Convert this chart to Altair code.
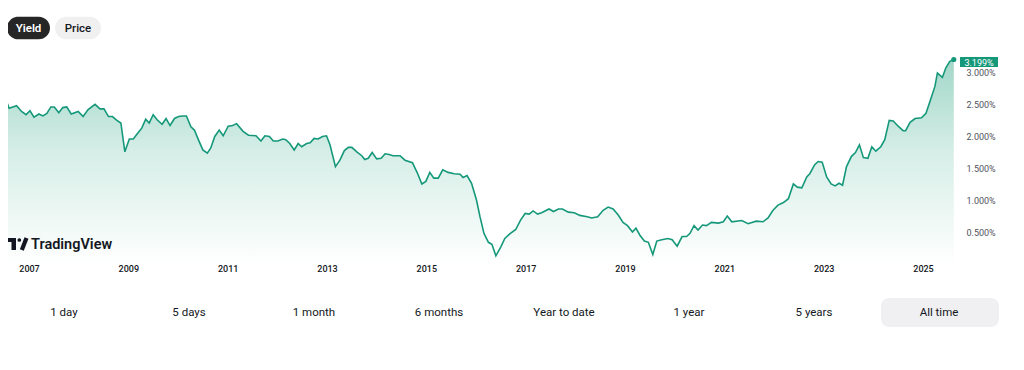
import altair as alt
import pandas as pd

# ---- data (decimal year, yield in %) ----
years = [2006.52, 2006.60, 2006.75, 2006.85, 2006.94, 2007.02, 2007.10, 2007.20, 2007.28, 2007.36,
         2007.44, 2007.51, 2007.60, 2007.68, 2007.76, 2007.85, 2007.99, 2008.09, 2008.19, 2008.33,
         2008.43, 2008.51, 2008.60, 2008.68, 2008.77, 2008.85, 2008.93, 2009.02, 2009.10, 2009.20,
         2009.27, 2009.35, 2009.42, 2009.50, 2009.58, 2009.68, 2009.76, 2009.84, 2009.93, 2010.01,
         2010.09, 2010.17, 2010.26, 2010.33, 2010.41, 2010.50, 2010.59, 2010.66, 2010.74, 2010.83,
         2010.91, 2011.01, 2011.10, 2011.18, 2011.31, 2011.42, 2011.57, 2011.67, 2011.75, 2011.84,
         2011.92, 2012.01, 2012.11, 2012.17, 2012.25, 2012.34, 2012.42, 2012.49, 2012.59, 2012.66,
         2012.74, 2012.82, 2012.91, 2012.99, 2013.06, 2013.17, 2013.26, 2013.35, 2013.43, 2013.50,
         2013.60, 2013.70, 2013.76, 2013.83, 2013.91, 2014.00, 2014.09, 2014.17, 2014.25, 2014.33,
         2014.47, 2014.57, 2014.72, 2014.82, 2014.91, 2014.99, 2015.07, 2015.15, 2015.24, 2015.33,
         2015.44, 2015.56, 2015.68, 2015.74, 2015.82, 2015.91, 2016.01, 2016.08, 2016.16, 2016.25,
         2016.32, 2016.40, 2016.50, 2016.58, 2016.68, 2016.80, 2016.90, 2016.99, 2017.07, 2017.15,
         2017.24, 2017.32, 2017.47, 2017.56, 2017.66, 2017.74, 2017.86, 2017.98, 2018.09, 2018.24,
         2018.33, 2018.45, 2018.56, 2018.66, 2018.76, 2018.86, 2018.96, 2019.05, 2019.15, 2019.22,
         2019.30, 2019.39, 2019.47, 2019.56, 2019.64, 2019.74, 2019.86, 2019.95, 2020.05, 2020.15,
         2020.24, 2020.31, 2020.39, 2020.47, 2020.56, 2020.64, 2020.74, 2020.88, 2020.98, 2021.06,
         2021.15, 2021.35, 2021.48, 2021.64, 2021.78, 2021.88, 2021.98, 2022.08, 2022.19, 2022.29,
         2022.39, 2022.47, 2022.56, 2022.66, 2022.72, 2022.82, 2022.89, 2022.97, 2023.06, 2023.15,
         2023.23, 2023.31, 2023.38, 2023.46, 2023.56, 2023.64, 2023.72, 2023.80, 2023.89, 2023.97,
         2024.05, 2024.15, 2024.23, 2024.32, 2024.40, 2024.50, 2024.60, 2024.65, 2024.74, 2024.84,
         2024.97, 2025.06, 2025.15, 2025.24, 2025.29, 2025.39, 2025.46, 2025.54, 2025.62]

yields = [2.60, 2.44, 2.48, 2.39, 2.34, 2.40, 2.30, 2.35, 2.32, 2.36,
          2.46, 2.46, 2.37, 2.45, 2.46, 2.35, 2.39, 2.31, 2.42, 2.50,
          2.43, 2.43, 2.31, 2.31, 2.25, 2.21, 1.76, 1.96, 1.96, 2.06,
          2.13, 2.27, 2.21, 2.34, 2.26, 2.19, 2.28, 2.17, 2.28, 2.31,
          2.32, 2.32, 2.15, 2.10, 1.95, 1.79, 1.74, 1.82, 2.00, 2.10,
          2.01, 2.16, 2.17, 2.20, 2.08, 2.02, 2.01, 1.93, 2.01, 2.00,
          1.93, 1.93, 1.96, 1.95, 1.89, 1.79, 1.89, 1.84, 1.89, 1.90,
          1.97, 1.96, 2.00, 2.01, 1.87, 1.53, 1.63, 1.78, 1.83, 1.83,
          1.76, 1.70, 1.64, 1.66, 1.75, 1.65, 1.66, 1.73, 1.72, 1.70,
          1.70, 1.63, 1.59, 1.43, 1.26, 1.30, 1.44, 1.35, 1.35, 1.48,
          1.44, 1.42, 1.41, 1.36, 1.39, 1.27, 1.01, 0.75, 0.49, 0.35,
          0.32, 0.14, 0.28, 0.41, 0.48, 0.55, 0.70, 0.80, 0.79, 0.84,
          0.79, 0.81, 0.87, 0.83, 0.87, 0.87, 0.82, 0.81, 0.77, 0.75,
          0.73, 0.75, 0.85, 0.90, 0.87, 0.78, 0.66, 0.61, 0.51, 0.57,
          0.46, 0.37, 0.35, 0.16, 0.37, 0.39, 0.41, 0.39, 0.29, 0.44,
          0.44, 0.49, 0.61, 0.54, 0.62, 0.61, 0.66, 0.65, 0.67, 0.76,
          0.67, 0.69, 0.64, 0.68, 0.67, 0.73, 0.85, 0.93, 0.97, 1.03,
          1.26, 1.21, 1.20, 1.37, 1.42, 1.56, 1.61, 1.60, 1.37, 1.26,
          1.23, 1.27, 1.24, 1.53, 1.69, 1.75, 1.87, 1.67, 1.66, 1.84,
          1.77, 1.84, 1.95, 2.25, 2.24, 2.16, 2.09, 2.09, 2.22, 2.28,
          2.29, 2.36, 2.57, 2.78, 2.99, 2.92, 3.07, 3.17, 3.199]

x_ticks = [2007, 2009, 2011, 2013, 2015, 2017, 2019, 2021, 2023, 2025]
y_ticks = [0.5, 1.0, 1.5, 2.0, 2.5, 3.0]
tabs = ["Yield", "Price"]
ranges = ["1 day", "5 days", "1 month", "6 months", "Year to date", "1 year", "5 years", "All time"]
brand = "TradingView"

df = pd.DataFrame({"year": years, "value": yields})
last = df.tail(1).reset_index(drop=True)

W, H = 1008, 354
GREEN = "#15987a"
FONT = "Roboto"
DARK = "#131722"

xs = alt.Scale(domain=[2007, 2025], range=[21, 915], nice=False, zero=False)
ys = alt.Scale(domain=[0.5, 3.0], range=[224.7, 64.3], nice=False, zero=False)

x_axis = alt.Axis(values=x_ticks, format="d", orient="bottom", offset=-100, domain=False,
                  ticks=False, grid=False, labelFontSize=9, labelColor=DARK, labelFont=FONT,
                  labelFontWeight=500, labelPadding=2, labelFlush=False, title=None)
y_axis = alt.Axis(values=y_ticks, orient="right", offset=-52, domain=False, ticks=False,
                  grid=False, labelFontSize=9, labelColor="#50535e", labelFont=FONT,
                  labelExpr="format(datum.value, '.3f') + '%'", labelPadding=2, title=None)

X = alt.X("year:Q", scale=xs, axis=x_axis)
Y = alt.Y("value:Q", scale=ys, axis=y_axis)

area = alt.Chart(df).mark_area(
    color=alt.Gradient(
        gradient="linear",
        stops=[alt.GradientStop(color="#a2d7c8", offset=0),
               alt.GradientStop(color="#d6eee7", offset=0.45),
               alt.GradientStop(color="#ffffff", offset=1)],
        x1=1, x2=1, y1=0, y2=1),
).encode(x=X, y=Y, y2=alt.value(252))

line = alt.Chart(df).mark_line(color=GREEN, strokeWidth=1.6).encode(x=X, y=Y)

dot = alt.Chart(last).mark_circle(color=GREEN, size=26, opacity=1).encode(
    x=alt.X("year:Q", scale=xs), y=alt.Y("value:Q", scale=ys))

badge = alt.Chart(last).mark_rect(color=GREEN, height=10).encode(
    x=alt.value(952), x2=alt.value(990), y=alt.Y("value:Q", scale=ys), yOffset=alt.value(2.5))

badge_text = alt.Chart(last).transform_calculate(
    label="format(datum.value, '.3f') + '%'"
).mark_text(color="white", fontSize=9, font=FONT, align="center", baseline="middle").encode(
    x=alt.value(971), y=alt.Y("value:Q", scale=ys), yOffset=alt.value(3), text="label:N")

layers = [area, line, dot, badge, badge_text]

# top tabs
one = alt.Data(values=[{"k": 1}])
tab_style = [(-1, 42, "#262626", "white", 600), (47, 93, "#f0f0f0", DARK, 500)]
for name, (x0, x1, fill, tcol, fw) in zip(tabs, tab_style):
    layers.append(alt.Chart(one).mark_rect(color=fill, cornerRadius=11.5).encode(
        x=alt.value(x0), x2=alt.value(x1), y=alt.value(8.7), y2=alt.value(31.3)))
    layers.append(alt.Chart(alt.Data(values=[{"t": name}])).mark_text(
        color=tcol, fontSize=11.5, font=FONT, fontWeight=fw, align="center", baseline="middle"
    ).encode(x=alt.value((x0 + x1) / 2), y=alt.value(20.5), text="t:N"))

# bottom range buttons
layers.append(alt.Chart(one).mark_rect(color="#f0f0f2", cornerRadius=8).encode(
    x=alt.value(873), x2=alt.value(991), y=alt.value(290), y2=alt.value(319)))
for i, name in enumerate(ranges):
    layers.append(alt.Chart(alt.Data(values=[{"t": name}])).mark_text(
        color=DARK, fontSize=11.5, font=FONT, align="center", baseline="middle"
    ).encode(x=alt.value(56 + i * 125), y=alt.value(304.5), text="t:N"))

# TradingView logo + wordmark
layers.append(alt.Chart(one).mark_rect(color=DARK).encode(
    x=alt.value(-3), x2=alt.value(8), y=alt.value(230), y2=alt.value(234)))
layers.append(alt.Chart(one).mark_rect(color=DARK).encode(
    x=alt.value(3.5), x2=alt.value(8), y=alt.value(230), y2=alt.value(242)))
layers.append(alt.Chart(one).mark_circle(color=DARK, size=14, opacity=1).encode(
    x=alt.value(11.3), y=alt.value(232)))
layers.append(alt.Chart(one).mark_rule(color=DARK, strokeWidth=4.2).encode(
    x=alt.value(18.5), y=alt.value(230), x2=alt.value(13.8), y2=alt.value(242)))
layers.append(alt.Chart(alt.Data(values=[{"t": brand}])).mark_text(
    color=DARK, fontSize=14.5, font=FONT, fontWeight=600, align="left", baseline="middle"
).encode(x=alt.value(23), y=alt.value(236.5), text="t:N"))

chart = alt.layer(*layers).properties(
    width=W, height=H, padding=0, autosize=alt.AutoSizeParams(type="none"),
    background="white"
).configure_view(strokeWidth=0)

chart.save("out.html", embed_options={"renderer": "svg", "actions": False})
